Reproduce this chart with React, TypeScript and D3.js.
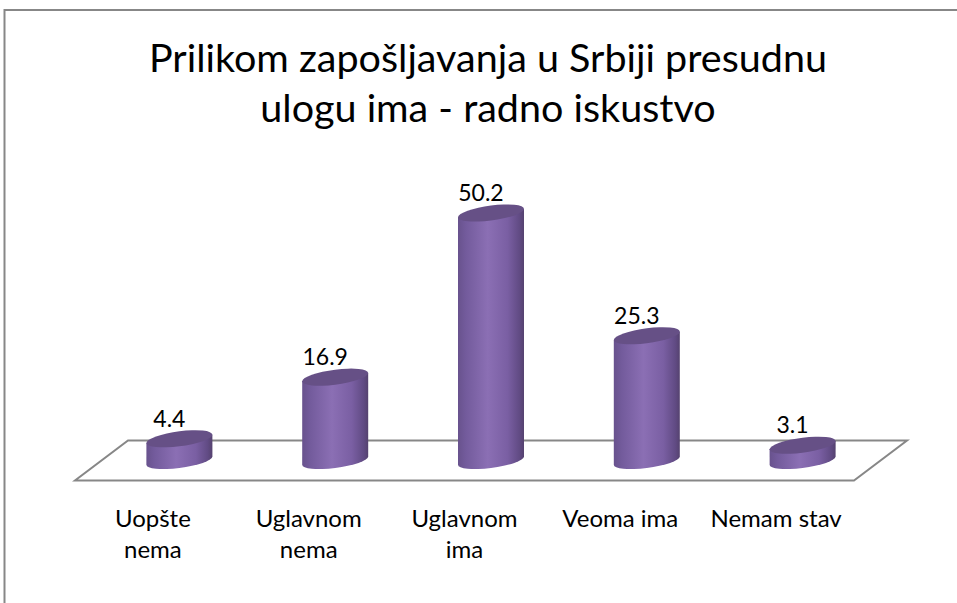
import React from "react";
import * as d3 from "d3";

const titleLines = ["Prilikom zapošljavanja u Srbiji presudnu", "ulogu ima - radno iskustvo"];
const categories = ["Uopšte nema", "Uglavnom nema", "Uglavnom ima", "Veoma ima", "Nemam stav"];
const categoryLines = [["Uopšte", "nema"], ["Uglavnom", "nema"], ["Uglavnom", "ima"], ["Veoma ima"], ["Nemam stav"]];
const values = [4.4, 16.9, 50.2, 25.3, 3.1];
const valueLabels = ["4.4", "16.9", "50.2", "25.3", "3.1"];

const W = 957;
const H = 603;
const FONT = "Lato, 'Open Sans', sans-serif";

export default function App() {
  // floor geometry (front edge + depth offset)
  const frontY = 480.5;
  const frontLeft = 75;
  const frontRight = 854;
  const depthX = 53;
  const depthY = 40;

  const x = d3.scaleBand<string>().domain(categories).range([frontLeft, frontRight]).padding(0);
  const baseY = frontY - depthY / 2;
  const y = d3.scaleLinear().domain([0, 60]).range([baseY, baseY - 60 * 4.93]);

  const rx = 33;
  const ry = 7.5;
  const k = -0.125;

  const floorPts: [number, number][] = [
    [frontLeft, frontY],
    [frontRight, frontY],
    [frontRight + depthX, frontY - depthY],
    [frontLeft + depthX, frontY - depthY],
  ];
  const floorPath = d3.line()(floorPts) + "Z";

  return (
    <svg
      width={W}
      height={H}
      style={{ position: "absolute", left: 0, top: 0, background: "#fff" }}
      xmlns="http://www.w3.org/2000/svg"
    >
      <defs>
        <linearGradient id="side" x1="0" y1="0" x2="1" y2="0">
          <stop offset="0" stopColor="#68528d" />
          <stop offset="0.12" stopColor="#735b9c" />
          <stop offset="0.45" stopColor="#8b6fb4" />
          <stop offset="0.75" stopColor="#7a5fa3" />
          <stop offset="0.93" stopColor="#614b84" />
          <stop offset="1" stopColor="#55426f" />
        </linearGradient>
      </defs>
      <rect x={0} y={0} width={W} height={H} fill="#fff" />
      {/* frame */}
      <path d={`M4.5,${H} L4.5,10 L${W},10`} fill="none" stroke="#878787" strokeWidth={2} />

      {/* title */}
      {titleLines.map((t, i) => (
        <text
          key={i}
          x={488}
          y={72 + i * 50}
          textAnchor="middle"
          fontFamily={FONT}
          fontSize={39.5}
          fill="#000"
        >
          {t}
        </text>
      ))}

      {/* floor */}
      <path d={floorPath} fill="#fff" stroke="#878787" strokeWidth={2} strokeLinejoin="miter" />

      {/* cylinders */}
      {categories.map((c, i) => {
        const cx = (x(c) as number) + x.bandwidth() / 2 + depthX / 2;
        const yTop = y(values[i]);
        const body = `M${-rx},${yTop} L${-rx},${baseY} A${rx},${ry} 0 0 0 ${rx},${baseY} L${rx},${yTop} Z`;
        return (
          <g key={c} transform={`translate(${cx},0) matrix(1,${k},0,1,0,0)`}>
            <path d={body} fill="url(#side)" />
            <ellipse cx={0} cy={yTop} rx={rx} ry={ry} fill="#665086" />
          </g>
        );
      })}

      {/* value labels */}
      {categories.map((c, i) => {
        const cx = (x(c) as number) + x.bandwidth() / 2 + depthX / 2;
        const yTop = y(values[i]);
        return (
          <text
            key={c}
            x={cx - 10}
            y={yTop - 12}
            textAnchor="middle"
            fontFamily={FONT}
            fontSize={23}
            fill="#000"
          >
            {valueLabels[i]}
          </text>
        );
      })}

      {/* category labels */}
      {categories.map((c, i) => {
        const cx = (x(c) as number) + x.bandwidth() / 2;
        return (
          <text key={c} textAnchor="middle" fontFamily={FONT} fontSize={24} fill="#000">
            {categoryLines[i].map((l, j) => (
              <tspan key={j} x={cx} y={527 + j * 31}>
                {l}
              </tspan>
            ))}
          </text>
        );
      })}
    </svg>
  );
}
